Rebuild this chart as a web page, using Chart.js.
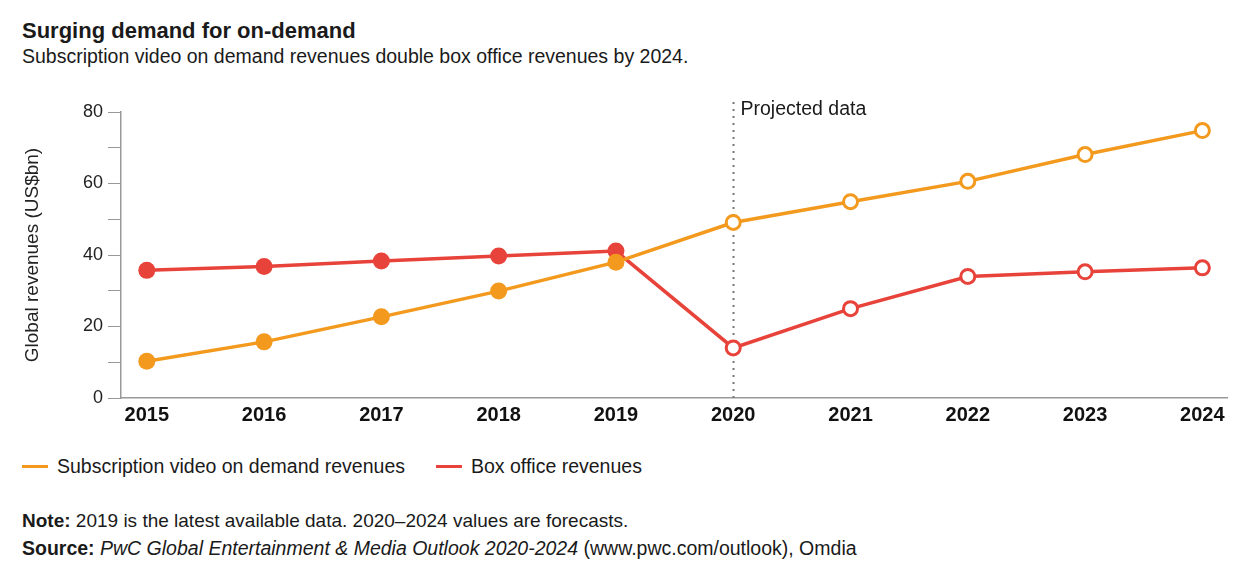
<!DOCTYPE html>
<html>
<head>
<meta charset="utf-8">
<script src="https://cdn.jsdelivr.net/npm/chart.js@4"></script>
<style>
  html, body { margin: 0; padding: 0; background: #fff; }
  body { width: 1259px; height: 576px; position: relative; overflow: hidden; font-family: "Liberation Sans", Arial, sans-serif; color: #1a1a1a; }
  .title { position: absolute; left: 22px; top: 18px; font-size: 22px; font-weight: bold; white-space: nowrap; }
  .subtitle { position: absolute; left: 22px; top: 45px; font-size: 19.5px; white-space: nowrap; }
  #wrap { position: absolute; left: 0; top: 90px; width: 1259px; height: 340px; }
  .legend { position: absolute; top: 455px; left: 22px; font-size: 19.5px; display: flex; align-items: center; white-space: nowrap; }
  .legend .sw { display: inline-block; width: 26px; height: 3px; margin-right: 9px; }
  .legend .item { display: flex; align-items: center; margin-right: 31px; }
  .note { position: absolute; left: 22px; top: 510px; font-size: 19px; white-space: nowrap; }
  .source { position: absolute; left: 22px; top: 537px; font-size: 19.5px; white-space: nowrap; }
</style>
</head>
<body>
<div class="title">Surging demand for on-demand</div>
<div class="subtitle">Subscription video on demand revenues double box office revenues by 2024.</div>
<div id="wrap"><canvas id="chart"></canvas></div>
<div class="legend">
  <span class="item"><span class="sw" style="background:#f39a1e"></span>Subscription video on demand revenues</span>
  <span class="item"><span class="sw" style="background:#e8433a"></span>Box office revenues</span>
</div>
<div class="note"><b>Note:</b> 2019 is the latest available data. 2020–2024 values are forecasts.</div>
<div class="source"><b>Source:</b> <i>PwC Global Entertainment &amp; Media Outlook 2020-2024</i> (www.pwc.com/outlook), Omdia</div>

<script>
// ---- data ----
const years = [2015, 2016, 2017, 2018, 2019, 2020, 2021, 2022, 2023, 2024];
const svodRevenue = [10.3, 15.7, 22.7, 29.9, 38.0, 49.1, 54.9, 60.6, 68.1, 74.8];
const boxOfficeRevenue = [35.7, 36.8, 38.3, 39.7, 41.1, 14.0, 25.0, 34.0, 35.3, 36.4];
const lastActualYear = 2019;
const projectedFrom = 2020;
const yTicks = [0, 10, 20, 30, 40, 50, 60, 70, 80];

const ORANGE = '#f39a1e';
const RED = '#e8433a';
const FONT = '"Liberation Sans", Arial, sans-serif';

function points(vals) { return years.map((y, i) => ({ x: y, y: vals[i] })); }
function fills(color) { return years.map(y => y <= lastActualYear ? color : '#ffffff'); }
function radii() { return years.map(y => y <= lastActualYear ? 8.5 : 7); }
function borders() { return years.map(y => y <= lastActualYear ? 0 : 3); }

// dotted "Projected data" marker
const projectedLine = {
  id: 'projectedLine',
  beforeDatasetsDraw(chart) {
    const { ctx, scales: { x, y } } = chart;
    const px = Math.round(x.getPixelForValue(projectedFrom)) + 0.5;
    ctx.save();
    ctx.strokeStyle = '#777';
    ctx.lineWidth = 2;
    ctx.setLineDash([2, 5]);
    ctx.beginPath();
    ctx.moveTo(px, 12);
    ctx.lineTo(px, y.bottom);
    ctx.stroke();
    ctx.setLineDash([]);
    ctx.fillStyle = '#1a1a1a';
    ctx.font = '19.5px ' + FONT;
    ctx.textBaseline = 'middle';
    ctx.fillText('Projected data', px + 7, 20);
    ctx.restore();
  }
};

new Chart(document.getElementById('chart'), {
  type: 'line',
  data: {
    datasets: [
      { label: 'Subscription video on demand revenues', data: points(svodRevenue), borderColor: ORANGE, backgroundColor: ORANGE, borderWidth: 3.5,
        pointRadius: radii(), pointBackgroundColor: fills(ORANGE), pointBorderColor: ORANGE, pointBorderWidth: borders(), tension: 0 },
      { label: 'Box office revenues', data: points(boxOfficeRevenue), borderColor: RED, backgroundColor: RED, borderWidth: 3.5,
        pointRadius: radii(), pointBackgroundColor: fills(RED), pointBorderColor: RED, pointBorderWidth: borders(), tension: 0 }
    ]
  },
  options: {
    responsive: true, maintainAspectRatio: false, animation: false,
    layout: { padding: { left: 0, right: 32, top: 22, bottom: 0 } },
    plugins: { legend: { display: false }, tooltip: { enabled: false } },
    scales: {
      x: {
        type: 'linear', min: 2014.78, max: 2024.21,
        afterBuildTicks: s => { s.ticks = years.map(v => ({ value: v })); },
        afterFit: s => { s.height = 32; },
        grid: { display: false, drawTicks: false },
        border: { color: '#999', width: 1.5 },
        ticks: { color: '#111', padding: 5, font: { size: 20, weight: 'bold', family: FONT }, callback: v => String(v) }
      },
      y: {
        min: 0, max: 80,
        afterBuildTicks: s => { s.ticks = yTicks.map(v => ({ value: v })); },
        afterFit: s => { s.width = 121; },
        grid: { drawOnChartArea: false, tickLength: 13, color: '#999', lineWidth: 1 },
        border: { color: '#999', width: 1.5 },
        ticks: { color: '#222', padding: 5, font: { size: 18, family: FONT }, callback: v => v % 20 === 0 ? String(v) : '' },
        title: { display: true, text: 'Global revenues (US$bn)', color: '#222', padding: { top: 21, bottom: 0 }, font: { size: 19, family: FONT } }
      }
    }
  },
  plugins: [projectedLine]
});
</script>
</body>
</html>
